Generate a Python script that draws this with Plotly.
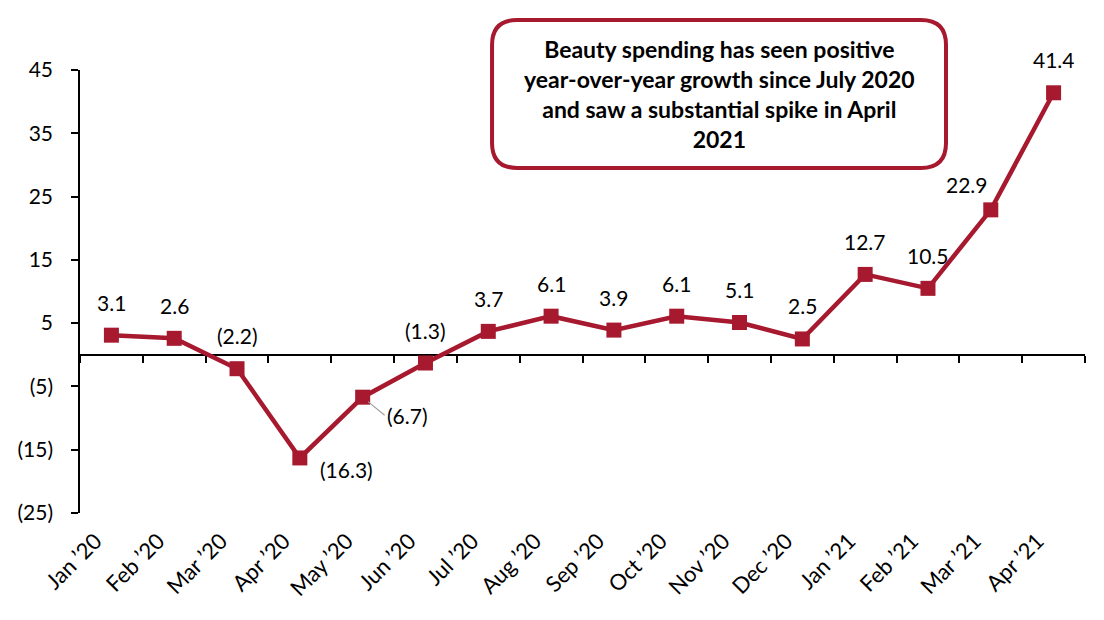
import plotly.graph_objects as go

months = ["Jan \u201920", "Feb \u201920", "Mar \u201920", "Apr \u201920", "May \u201920", "Jun \u201920",
          "Jul \u201920", "Aug \u201920", "Sep \u201920", "Oct \u201920", "Nov \u201920", "Dec \u201920",
          "Jan \u201921", "Feb \u201921", "Mar \u201921", "Apr \u201921"]
growth = [3.1, 2.6, -2.2, -16.3, -6.7, -1.3, 3.7, 6.1, 3.9, 6.1, 5.1, 2.5, 12.7, 10.5, 22.9, 41.4]

y_tickvals = [45, 35, 25, 15, 5, -5, -15, -25]
y_ticktext = ["45", "35", "25", "15", "5", "(5)", "(15)", "(25)"]

callout = ("Beauty spending has seen positive<br>year-over-year growth since July 2020"
           "<br>and saw a substantial spike in April<br>2021")

RED = "#A6192E"
FONT = "Lato"
YMIN, YMAX = -25, 45

def fmt(v):
    return f"({abs(v):.1f})" if v < 0 else f"{v:.1f}"

# label pixel offsets (style)
offsets = [(0, 33)] * 16
offsets = list(offsets)
offsets[3] = (47, -12)
offsets[14] = (-24, 25)

fig = go.Figure()
fig.add_trace(go.Scatter(
    x=months, y=growth, mode="lines+markers",
    line=dict(color=RED, width=4.5),
    marker=dict(symbol="square", size=15, color=RED),
    hoverinfo="skip", showlegend=False,
))
# invisible trace to carry the zero-line category tick axis
fig.add_trace(go.Scatter(x=months, y=[None] * len(months), xaxis="x2",
                         mode="lines", showlegend=False, hoverinfo="skip"))

for i, (m, v) in enumerate(zip(months, growth)):
    if i == 4:
        fig.add_annotation(x=m, y=v, text=fmt(v), showarrow=True, arrowhead=0,
                           arrowwidth=1.2, arrowcolor="#A0A0A0", ax=22, ay=18,
                           xanchor="left", standoff=7,
                           font=dict(family=FONT, size=21, color="black"))
        continue
    dx, dy = offsets[i]
    fig.add_annotation(x=m, y=v, text=fmt(v), showarrow=False,
                       xshift=dx, yshift=dy,
                       font=dict(family=FONT, size=21, color="black"))

# rounded callout box (paper coords)
x0, x1 = 0.41, 0.8617
y0, y1 = 0.7788, 1.1129
rx, ry = 0.0249, 0.0564
path = (f"M {x0+rx},{y0} L {x1-rx},{y0} Q {x1},{y0} {x1},{y0+ry} "
        f"L {x1},{y1-ry} Q {x1},{y1} {x1-rx},{y1} "
        f"L {x0+rx},{y1} Q {x0},{y1} {x0},{y1-ry} "
        f"L {x0},{y0+ry} Q {x0},{y0} {x0+rx},{y0} Z")
fig.add_shape(type="path", path=path, xref="paper", yref="paper",
              line=dict(color=RED, width=4), fillcolor="white", layer="above")
fig.add_annotation(x=(x0 + x1) / 2, y=(y0 + y1) / 2, xref="paper", yref="paper",
                   text="<b>" + callout + "</b>", showarrow=False,
                   font=dict(family=FONT, size=23, color="black"),
                   align="center", xanchor="center", yanchor="middle")

fig.update_layout(
    width=1104, height=620,
    margin=dict(l=80, r=19, t=70, b=107),
    paper_bgcolor="white", plot_bgcolor="white",
    font=dict(family=FONT, size=20, color="black"),
    xaxis=dict(type="category", range=[-0.5, 15.5], tickangle=-45, showgrid=False,
               showline=False, ticks="", zeroline=False,
               ticklabelshift=-16, ticklabelstandoff=10,
               tickfont=dict(family=FONT, size=22)),
    xaxis2=dict(type="category", overlaying="x", anchor="free",
                position=(0 - YMIN) / (YMAX - YMIN), side="bottom",
                range=[-0.5, 15.5], showticklabels=False, showgrid=False,
                showline=False, zeroline=False, ticks="outside", tickson="boundaries",
                ticklen=7, tickwidth=1.5, tickcolor="black"),
    yaxis=dict(range=[YMIN, YMAX], tickvals=y_tickvals, ticktext=y_ticktext,
               showgrid=False, showline=True, linecolor="black", linewidth=1.5,
               ticks="outside", ticklen=7, tickcolor="black", tickwidth=1.5,
               ticklabelstandoff=14,
               zeroline=True, zerolinecolor="black", zerolinewidth=1.5,
               tickfont=dict(family=FONT, size=21)),
)

fig.write_html("out.html")
